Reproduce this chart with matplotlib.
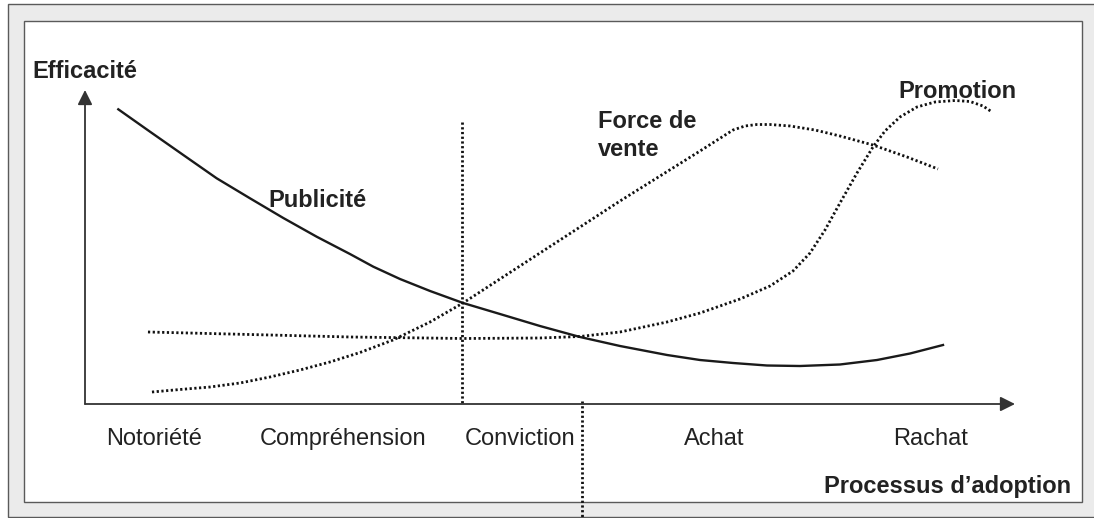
"""
Efficacité des outils de communication selon le processus d'adoption.
"""
import matplotlib
matplotlib.use('Agg')
import matplotlib.pyplot as plt
from matplotlib.patches import Rectangle

# Stages of the adoption process (x positions in % of the horizontal axis)
stages = ['Notoriété', 'Compréhension', 'Conviction', 'Achat', 'Rachat']
stage_x = [7.4, 27.7, 46.8, 67.7, 90.9]

# Effectiveness curves (x in % of axis length, y in % of axis height)
pub_x = [3.58, 6.99, 10.57, 14.16, 17.74, 21.32, 24.91, 28.49, 31.0, 33.87,
         37.10, 40.65, 44.62, 48.92, 53.23, 57.53, 62.58, 66.13, 69.68,
         73.33, 76.88, 81.18, 85.16, 88.71, 92.26]
pub_y = [93.85, 86.72, 79.30, 71.88, 65.51, 59.24, 53.28, 47.77, 43.73, 39.81,
         35.99, 32.17, 28.66, 24.84, 21.34, 18.47, 15.61, 14.01, 13.06,
         12.26, 12.10, 12.58, 14.01, 16.08, 18.79]

fdv_x = [7.20, 10.22, 13.44, 16.67, 19.89, 23.12, 26.34, 29.57, 33.12, 37.10,
         40.65, 44.62, 48.92, 53.23, 57.53, 61.83, 66.13, 69.68, 70.97,
         72.26, 73.66, 75.81, 78.49, 81.18, 84.73, 88.39, 91.72]
fdv_y = [3.82, 4.62, 5.41, 6.69, 8.60, 10.83, 13.38, 16.40, 20.38, 26.11,
         32.17, 39.81, 48.09, 56.37, 64.65, 72.61, 80.57, 87.26, 88.54,
         89.01, 89.01, 88.54, 87.26, 85.35, 82.48, 78.66, 74.84]

promo_x = [6.77, 17.74, 28.49, 40.65, 48.92, 53.23, 57.53, 62.58, 66.13,
           70.43, 73.66, 76.13, 77.96, 79.57, 81.18, 83.01, 84.73, 86.02,
           87.63, 89.46, 91.40, 93.55, 95.16, 96.56, 97.53]
promo_y = [22.93, 22.13, 21.34, 20.86, 21.02, 21.50, 22.93, 26.11, 28.98,
           33.44, 37.58, 42.36, 48.09, 55.41, 64.01, 73.57, 81.85, 86.94,
           91.40, 94.59, 96.18, 96.66, 96.34, 94.90, 92.99]

# Vertical separators
sep1_x, sep1_y = [40.5, 40.5], [89.8, 0]
sep2_x, sep2_y = [53.4, 53.4], [1.0, -36.5]

W, H = 1094, 518
INK = '#222222'
LINE = '#1a1a1a'
DOTS = (0, (0.8, 0.9))


def fx(px):
    return px / W


def fy(py):
    return 1 - py / H


def main():
    plt.rcParams['font.family'] = ['Liberation Sans', 'DejaVu Sans']
    fig = plt.figure(figsize=(W / 100, H / 100), dpi=100)

    # grey frame and white panel
    fig.add_artist(Rectangle((fx(8), fy(517)), fx(1100) - fx(8), fy(4) - fy(517),
                             transform=fig.transFigure, facecolor='#ebebeb',
                             edgecolor='#5a5a5a', lw=1.0, zorder=0))
    fig.add_artist(Rectangle((fx(24), fy(502)), fx(1082) - fx(24), fy(21) - fy(502),
                             transform=fig.transFigure, facecolor='white',
                             edgecolor='#5a5a5a', lw=1.0, zorder=0))

    ax = fig.add_axes([fx(85), fy(404), fx(1015) - fx(85), fy(90) - fy(404)])
    ax.set_facecolor('none')
    ax.set_xlim(0, 100)
    ax.set_ylim(0, 100)
    for s in ax.spines.values():
        s.set_visible(False)

    # axes with arrow heads
    arrow = dict(arrowstyle='-|>', color='#333333', lw=1.3, mutation_scale=22,
                 shrinkA=0, shrinkB=0)
    ax.annotate('', xy=(1, 0), xytext=(0, 0), xycoords='axes fraction',
                arrowprops=arrow)
    ax.annotate('', xy=(0, 1), xytext=(0, 0), xycoords='axes fraction',
                arrowprops=arrow)

    dotted = dict(color='#111111', lw=2.0, ls=DOTS, dash_capstyle='butt')
    ax.plot(pub_x, pub_y, color=LINE, lw=1.7, solid_joinstyle='round')
    ax.plot(fdv_x, fdv_y, **dotted)
    ax.plot(promo_x, promo_y, **dotted)
    ax.plot(sep1_x, sep1_y, **dotted)
    ax.plot(sep2_x, sep2_y, clip_on=False, **dotted)

    ax.set_xticks(stage_x, stages)
    ax.set_yticks([])
    ax.tick_params(axis='x', length=0, pad=17, labelsize=17, labelcolor=INK)

    bold = dict(fontsize=17, fontweight='bold', color=INK, va='baseline',
                clip_on=False)
    ax.text(-5.7, 103.8, 'Efficacité', ha='left', **bold)
    ax.text(19.7, 62.7, 'Publicité', ha='left', **bold)
    ax.text(55.2, 87.9, 'Force de', ha='left', **bold)
    ax.text(55.2, 79.0, 'vente', ha='left', **bold)
    ax.text(87.5, 97.5, 'Promotion', ha='left', **bold)
    ax.text(106.0, -28.3, 'Processus d’adoption', ha='right', **bold)

    fig.savefig('out.png', dpi=100)
    plt.close(fig)


if __name__ == '__main__':
    main()
